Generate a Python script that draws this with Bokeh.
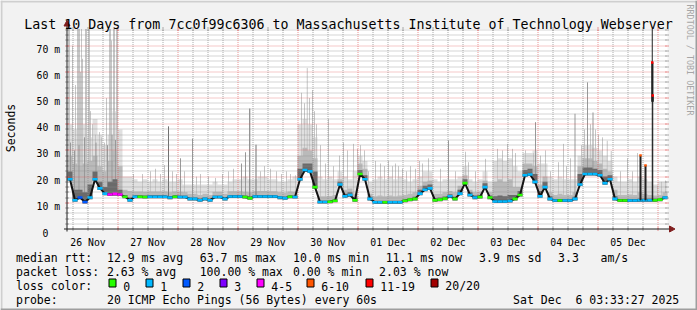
import math
from bokeh.plotting import figure
from bokeh.models import Range1d
from bokeh.core.properties import value
from bokeh.embed import file_html
from bokeh.resources import INLINE

# ---------------- data ----------------
TITLE = "Last 10 Days from 7cc0f99c6306 to Massachusetts Institute of Technology Webserver"
day_labels = ["26 Nov", "27 Nov", "28 Nov", "29 Nov", "30 Nov",
              "01 Dec", "02 Dec", "03 Dec", "04 Dec", "05 Dec"]
day_label_hours = [12, 36, 60, 84, 108, 132, 156, 180, 204, 228]   # hours since 26 Nov 00:00
y_tick_values = [0, 10, 20, 30, 40, 50, 60, 70]
y_tick_labels = ["0", "10 m", "20 m", "30 m", "40 m", "50 m", "60 m", "70 m"]

BIN_START_H = 3.8      # first 2-hour bin starts 26 Nov ~03:48
BIN_H = 2.0

median_ms = [
    19, 11, 12, 10.3, 12, 19, 15.5, 13.5, 13.2, 13.4,
    13.2, 12.3, 11, 12.3, 12.3, 12.2, 12.3, 12.3, 12.3, 12.3,
    12.0, 12.3, 12.2, 12.2, 11.5, 11.5, 11.0, 11.5, 11.0, 12.2,
    12.2, 11.5, 12.4, 12.4, 12.4, 12.2, 11.8, 12.4, 12.4, 12.4,
    12.4, 12.4, 12.0, 11.8, 12.3, 12.2, 19.0, 22.5, 22.0, 16.0,
    10.3, 10.3, 10.4, 10.8, 17.0, 12.5, 13.0, 11.0, 21.0, 19.0,
    11.5, 10.2, 10.2, 10.2, 10.2, 10.2, 10.2, 10.8, 11.2, 11.5,
    13.5, 15.0, 15.5, 11.0, 11.2, 11.6, 12.5, 11.5, 13.5, 17.5,
    13.0, 12.0, 12.2, 16.0, 12.0, 10.5, 10.5, 10.5, 10.7, 11.5,
    13.0, 20.5, 20.8, 18.0, 12.5, 16.0, 11.5, 10.9, 10.9, 10.9,
    10.9, 11.5, 17.0, 21.0, 21.0, 21.0, 20.5, 17.5, 19.0, 11.5,
    10.9, 10.9, 10.9, 10.9, 11.0, 11.0, 11.0, 11.0, 11.2, 12.0]

loss_count = [
    1, 1, 2, 2, 1, 1, 1, 1, 4, 4,
    4, 0, 1, 1, 0, 0, 1, 1, 1, 1,
    1, 0, 1, 1, 1, 1, 1, 1, 1, 1,
    1, 1, 1, 1, 1, 0, 0, 1, 1, 1,
    1, 1, 1, 1, 0, 1, 1, 1, 1, 0,
    1, 1, 0, 0, 1, 1, 1, 0, 0, 1,
    1, 1, 1, 0, 1, 1, 1, 0, 0, 0,
    1, 1, 1, 0, 0, 0, 1, 0, 1, 0,
    1, 1, 0, 1, 0, 1, 1, 1, 1, 0,
    0, 1, 1, 1, 1, 1, 1, 1, 0, 1,
    1, 1, 1, 1, 1, 1, 1, 1, 1, 1,
    0, 0, 1, 1, 1, 1, 1, 0, 0, 1]

smoke_light_ms = [
    40, 38, 35, 40, 35, 42, 36, 32, 36, 45,
    38, 20, 20, 19, 18, 19, 18, 19, 18, 19,
    18, 18, 19, 17, 17, 17, 17, 17, 17, 18,
    17, 17, 18, 19, 19, 20, 19, 19, 20, 20,
    19, 19, 18, 18, 19, 20, 40, 42, 40, 35,
    20, 19, 20, 19, 22, 20, 19, 22, 28, 26,
    18, 19, 20, 19, 20, 19, 20, 19, 18, 19,
    20, 22, 22, 19, 18, 19, 19, 19, 20, 24,
    19, 18, 19, 22, 18, 26, 27, 26, 27, 24,
    22, 29, 29, 30, 25, 25, 20, 19, 20, 19,
    19, 19, 28, 32, 32, 31, 30, 28, 26, 20,
    18, 18, 19, 18, 20, 19, 18, 17, 18, 18]

smoke_mid_ms = [
    28, 25, 24, 25, 26, 28, 24, 22, 26, 30,
    24, 15, 14.5, 14.3, 14.3, 14.2, 14.3, 14.3, 14.3, 14.3,
    14, 14.3, 14.2, 14, 13.5, 13.5, 13, 13.5, 13, 14.2,
    14.2, 13.5, 14.4, 14.4, 14.4, 14.2, 14, 14.4, 14.5, 14.5,
    14.4, 14.4, 14, 13.8, 14.3, 14.2, 28, 31, 30, 27,
    12.5, 12.5, 12.6, 13, 19, 15, 15.5, 13.5, 25, 23,
    13.5, 12.5, 12.8, 12.5, 12.8, 12.5, 12.8, 13, 13.5, 14,
    16.5, 18, 18.5, 13.5, 13.5, 14, 14.5, 14, 16.5, 20.5,
    15, 14, 14.2, 18.5, 14, 18, 19, 18, 19, 16,
    16, 25, 25, 24, 17, 20, 14, 13, 13.5, 13,
    13, 14, 24, 27, 27, 26, 25, 23, 22, 15,
    13, 13, 13.2, 13, 14, 13.5, 13, 12.8, 13, 14]

smoke_dark_ms = [
    22, 15, 15, 14, 17, 22, 18, 16, 18, 19,
    15, 13, 12, 12.9, 12.9, 12.8, 12.9, 12.9, 12.9, 12.9,
    12.6, 12.9, 12.8, 12.8, 12.1, 12.1, 11.6, 12.1, 11.6, 12.8,
    12.8, 12.1, 13.0, 13.0, 13.0, 12.8, 12.4, 13.0, 13.0, 13.0,
    13.0, 13.0, 12.6, 12.4, 12.9, 12.8, 23, 25, 25, 22,
    10.9, 10.9, 11.0, 11.4, 18, 13.5, 14, 12, 22.5, 20.5,
    12.3, 10.8, 10.8, 10.8, 10.8, 10.8, 10.8, 11.4, 11.8, 12.3,
    15, 16.5, 17, 11.8, 12.0, 12.4, 13.3, 12.3, 15, 19,
    14, 12.8, 13, 17.5, 12.8, 12.5, 12.8, 12.5, 13, 13,
    14.5, 22.5, 23, 21, 14.5, 18, 12.5, 11.5, 11.5, 11.5,
    11.5, 12.3, 21, 23.5, 23.5, 23, 22.5, 20, 20.5, 12.5,
    11.5, 11.5, 11.5, 11.5, 11.6, 11.6, 11.6, 11.6, 11.8, 12.6]

# single outlying pings (hours since 26 Nov 00:00, top in ms)
light_spike_hours = [
    4.2, 4.6, 5.8, 7.8, 8.2, 8.6, 9.4, 9.8, 11.0, 11.4, 12.2, 12.6,
    20.6, 21.0, 21.4, 22.2, 22.6, 23.4, 23.8,
    7.0, 9.0, 13.0, 13.8, 15.0, 16.6, 17.4, 18.6, 19.4,
    30.2, 33.8, 37.0, 39.0, 41.0, 42.6, 45.8, 47.4, 50.6, 55.4, 57.0, 60.2,
    63.0, 65.8, 68.2, 70.2, 81.0, 82.6, 85.0, 87.4, 89.4, 91.4, 93.0, 95.0,
    97.4, 98.6, 99.7, 100.6, 101.8, 102.6, 103.4,
    105.0, 107.0, 108.2, 110.2, 112.6, 114.2, 115.8, 118.2, 119.8, 121.0,
    122.6, 124.2, 127.0, 129.0, 130.6, 132.2, 133.8, 135.0, 136.2, 137.8,
    139.4, 141.0, 143.0, 144.6, 145.8, 148.2,
    153.0, 159.0, 163.0, 164.2, 167.0, 171.0,
    175.8, 177.8, 179.8, 181.8, 183.0, 187.0, 190.2, 193.0, 195.0,
    197.0, 200.2, 202.2, 203.4, 205.0, 209.4, 210.6, 213.0, 215.0, 216.2,
    217.8, 219.7, 221.3,
    225.0, 227.8, 229.8, 231.8, 239.8, 241.4, 243.0]
light_spike_ms = [
    90, 90, 70, 90, 90, 90, 90, 65, 90, 90, 90, 90,
    90, 90, 72, 90, 90, 90, 90,
    55, 60, 45, 40, 36, 37, 35, 33, 50,
    21, 21, 22, 23, 21, 24.4, 22, 21, 22, 20, 21, 20,
    19.5, 21, 22, 23, 22, 24, 23, 22, 21, 22, 21, 20.5,
    52, 48, 61.5, 50, 53, 45, 40,
    32, 25, 42, 24, 28, 33, 30, 32.5, 30.6, 32,
    30, 22, 26, 25, 24, 26, 24, 25, 24, 23,
    22, 24, 23, 26, 25, 27,
    23, 22, 29.5, 25.5, 22, 26.8,
    30.6, 30, 32.5, 30.6, 29, 30, 29, 28, 30,
    22, 25.5, 32.5, 24, 27, 32, 38, 40, 38, 36,
    35, 33.7, 29.8,
    22, 27, 22, 29, 16.6, 18, 18.5]

gray_spike_hours = [5.0, 6.6, 8.4, 10.6, 15.2, 19.8, 21.6, 23.0,
                    49.0, 53.8, 73.4, 75.0, 156.2, 191.0, 206.8, 211.8, 214.0]
gray_spike_ms = [33, 30, 32, 35, 33, 32, 36, 34,
                 27, 34.5, 25, 29.3, 33.8, 40.8, 44, 56, 44.5]

dark_spike_hours = [44.2, 76.7, 79.2]
dark_spike_ms = [39.2, 46, 32.2]

# short high-loss episodes on 05 Dec
event_hours = [233.0, 235.0, 237.7, 237.9]
event_median_ms = [28.1, 24.3, 63.6, 51.0]
event_top_ms = [28.1, 24.3, 90.0, 63.6]
event_dark_low_ms = [11.0, 11.0, 48.6, 48.6]
event_loss = [8, 8, 15, 15]

loss_labels = ["0", "1", "2", "3", "4-5", "6-10", "11-19", "20/20"]
loss_colors = ["#26ff00", "#00b8ff", "#0059ff", "#7e00ff",
               "#ff00ff", "#ff5500", "#ff0000", "#a10000"]

stat_rtt = ["median rtt:", "12.9 ms avg", "63.7 ms max", "10.0 ms min",
            "11.1 ms now", "3.9 ms sd", "3.3", "am/s"]
stat_loss = ["packet loss:", "2.63 % avg", "100.00 % max", "0.00 % min", "2.03 % now"]
probe_texts = ["probe:", "20 ICMP Echo Pings (56 Bytes) every 60s",
               "Sat Dec\u00a0\u00a06 03:33:27 2025"]
WATERMARK = "RRDTOOL / TOBI OETIKER"
Y_LABEL = "Seconds"

# ---------------- layout (pixels of the 697x310 page) ----------------
W, H = 697, 310
PX0, PXH = 57.5, 2.5      # x pixel of 26 Nov 00:00, pixels per hour
PY0, PYM = 228.5, 2.619   # y pixel of 0 ms, pixels per ms
FONT = "DejaVu Sans Mono"


def hx(px):
    return (px - PX0) / PXH


def vy(py):
    return (PY0 - py) / PYM


def snap(v):
    py = PY0 - v * PYM
    return vy(math.floor(py) + 0.5)


YMAX = vy(28.5)
H_LEFT, H_RIGHT = hx(67), hx(667)

p = figure(width=W, height=H, x_range=Range1d(hx(0), hx(W)), y_range=Range1d(vy(H), vy(0)),
           x_axis_type=None, y_axis_type=None, toolbar_location=None,
           output_backend="svg", min_border=0)
p.outline_line_color = None
p.background_fill_color = "#F2F2F2"
p.border_fill_color = "#F2F2F2"


def quad_px(l, r, t, b, color):
    p.quad(left=[hx(l)], right=[hx(r)], top=[vy(t)], bottom=[vy(b)],
           fill_color=color, line_color=None)


# frame shading
quad_px(0, W, 0, 2, "#CFCFCF")
quad_px(0, 2, 0, H, "#CFCFCF")
quad_px(0, W, H - 2, H, "#9E9E9E")
quad_px(W - 2, W, 0, H, "#9E9E9E")

# canvas
p.quad(left=[H_LEFT], right=[H_RIGHT], bottom=[0], top=[YMAX], fill_color="white", line_color=None)

# ---------------- smoke ----------------
N = len(median_ms)
edges = [BIN_START_H + BIN_H * k for k in range(N + 1)]
centers = [BIN_START_H + BIN_H * (k + 0.5) for k in range(N)]
floor = [m - 0.6 for m in median_ms]


def ext(a):
    return list(a) + [a[-1]]


p.varea_step(x=edges, y1=ext(floor), y2=ext(smoke_light_ms), step_mode="after",
             fill_color="#e0e0e0")


def bin_median(h):
    k = int((h - BIN_START_H) // BIN_H)
    k = max(0, min(N - 1, k))
    return median_ms[k]


def spikes(hours, tops, color, width=1.0):
    p.segment(x0=hours, x1=hours, y0=[bin_median(h) for h in hours],
              y1=[min(t, YMAX) for t in tops], line_color=color, line_width=width)


spikes(light_spike_hours, light_spike_ms, "#c6c6c6")
p.varea_step(x=edges, y1=ext(floor), y2=ext(smoke_mid_ms), step_mode="after",
             fill_color="#bababa")
spikes(gray_spike_hours, gray_spike_ms, "#999999")
spikes(dark_spike_hours, dark_spike_ms, "#707070")
p.varea_step(x=edges, y1=ext(floor), y2=ext(smoke_dark_ms), step_mode="after",
             fill_color="#6a6a6a")

# ---------------- grid ----------------
GRID = "#8F8F8F"
MGRID = "#DE4F4F"
minor_v = [h for h in range(6, 244, 6) if h % 24 != 0 and H_LEFT < h < H_RIGHT]
major_v = [h for h in range(24, 244, 24) if H_LEFT < h < H_RIGHT]
minor_h = [snap(v) for v in range(2, 77, 2) if v % 10 != 0 and v < YMAX]
major_h = [snap(v) for v in y_tick_values[1:]]

p.segment(x0=minor_v, x1=minor_v, y0=[0] * len(minor_v), y1=[YMAX] * len(minor_v),
          line_color=GRID, line_alpha=0.75, line_dash="1 1")
p.segment(x0=[H_LEFT] * len(minor_h), x1=[H_RIGHT] * len(minor_h), y0=minor_h, y1=minor_h,
          line_color=GRID, line_alpha=0.75, line_dash="1 1")
p.segment(x0=major_v, x1=major_v, y0=[0] * len(major_v), y1=[YMAX] * len(major_v),
          line_color=MGRID, line_alpha=0.6, line_dash="1 1")
p.segment(x0=[H_LEFT] * len(major_h), x1=[H_RIGHT] * len(major_h), y0=major_h, y1=major_h,
          line_color=MGRID, line_alpha=0.6, line_dash="1 1")

# ticks at canvas edges
for vals, col, al in ((minor_h, GRID, 0.75), (major_h, MGRID, 0.6)):
    for a, b in ((64.5, 68.5), (664.5, 668.5)):
        p.segment(x0=[hx(a)] * len(vals), x1=[hx(b)] * len(vals), y0=vals, y1=vals,
                  line_color=col, line_alpha=al)
for vals, col, al in ((minor_v, GRID, 0.75), (major_v, MGRID, 0.6)):
    for a, b in ((226.5, 230.5), (26.5, 30.5)):
        p.segment(x0=vals, x1=vals, y0=[vy(a)] * len(vals), y1=[vy(b)] * len(vals),
                  line_color=col, line_alpha=al)

# ---------------- median line ----------------
p.line(x=centers, y=median_ms, line_color="#141414", line_width=2)


def bucket(n):
    if n <= 3:
        return n
    if n <= 5:
        return 4
    if n <= 10:
        return 5
    if n <= 19:
        return 6
    return 7


p.segment(x0=edges[:-1], x1=edges[1:], y0=median_ms, y1=median_ms,
          line_color=[loss_colors[bucket(n)] for n in loss_count], line_width=2.6)

# high-loss episodes
p.segment(x0=event_hours, x1=event_hours, y0=[bin_median(h) for h in event_hours],
          y1=[min(t, YMAX) for t in event_top_ms], line_color="#202020", line_width=1)
p.segment(x0=event_hours, x1=event_hours, y0=event_dark_low_ms, y1=event_median_ms,
          line_color="#202020", line_width=2)
p.segment(x0=[h - 0.5 for h in event_hours], x1=[h + 0.5 for h in event_hours],
          y0=event_median_ms, y1=event_median_ms,
          line_color=[loss_colors[bucket(n)] for n in event_loss], line_width=2.4)

# ---------------- axes ----------------
AXIS = "#1F1F1F"
ARROW = "#801F1F"
p.segment(x0=[hx(66.5)], x1=[hx(66.5)], y0=[vy(231)], y1=[vy(24)], line_color=AXIS)
p.segment(x0=[hx(63.5)], x1=[hx(670)], y0=[0], y1=[0], line_color=AXIS)
p.patch(x=[hx(63.5), hx(69.5), hx(66.5)], y=[vy(25.5), vy(25.5), vy(20)],
        fill_color=ARROW, line_color=ARROW)
p.patch(x=[hx(669), hx(669), hx(674.5)], y=[vy(225.5), vy(231.5), vy(228.5)],
        fill_color=ARROW, line_color=ARROW)

# ---------------- texts ----------------
def texts(xs_px, ys_px, strs, size, align="left", baseline="alphabetic", angle=0.0,
          color="#000000"):
    p.text(x=[hx(x) for x in xs_px], y=[vy(y) for y in ys_px], text=strs,
           text_font=value(FONT), text_font_size=value(size), text_align=align,
           text_baseline=baseline, angle=angle, text_color=color)


texts([348], [23.5], [TITLE], "13.3px", align="center")

ylab_x = [36 + 5.9 * (2 - len(s.split()[0])) for s in y_tick_labels]
ylab_y = [PY0 - v * PYM + 3.5 for v in y_tick_values]
texts(ylab_x, ylab_y, y_tick_labels, "9.8px")

texts([PX0 + PXH * h for h in day_label_hours], [241.7] * len(day_labels), day_labels,
      "9.8px", align="center")

texts([10.8], [127.5], [Y_LABEL], "11.5px", align="center", baseline="middle",
      angle=math.pi / 2)
texts([689.3], [4.0], [WATERMARK], "8.4px", baseline="middle", angle=-math.pi / 2,
      color="#A6A6A6")

LEG = "11.5px"
texts([15.6, 106.5, 199.3, 292.5, 385.2, 478.6, 557.6, 600.0], [257.4] * 8, stat_rtt, LEG)
texts([15.6, 106.5, 199.2, 292.5, 378.6], [271.4] * 5, stat_loss, LEG)
texts([15.6], [285.5], ["loss color:"], LEG)
texts([15.6, 106.5, 512.6], [299.5] * 3, probe_texts, LEG)

box_left = [108.5, 145.5, 182.5, 219.5, 256.5, 306.5, 365.5, 430.5]
p.quad(left=[hx(b) for b in box_left], right=[hx(b + 7) for b in box_left],
       top=[vy(278.5)] * 8, bottom=[vy(286.5)] * 8,
       fill_color=loss_colors, line_color="#000000", line_width=1)
texts([b + 14.3 for b in box_left], [285.5] * 8, loss_labels, LEG)

open("out.html", "w").write(file_html(p, INLINE))
